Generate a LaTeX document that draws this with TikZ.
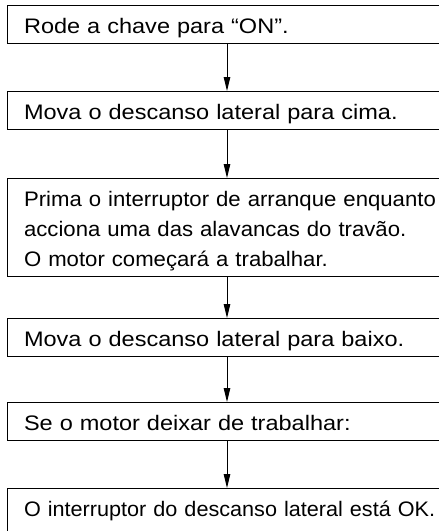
\documentclass[tikz,border=0pt]{standalone}
\usepackage{fontspec}
\setmainfont{Liberation Sans}
\newfontfamily\fwide[FakeStretch=1.12]{Liberation Sans}
\newfontfamily\fmid[FakeStretch=1.055]{Liberation Sans}
\newfontfamily\fnarrow[FakeStretch=1.03]{Liberation Sans}
\usetikzlibrary{arrows.meta}
\begin{document}
\begin{tikzpicture}[x=1pt,y=-1pt,
  stepbox/.style={draw, line width=1.1pt, anchor=north west, text width=440pt, align=left,
    inner xsep=16.5pt, inner ysep=0pt, text height=28pt, text depth=10pt,
    font=\fwide\fontsize{21}{30}\selectfont},
  flow/.style={-{Triangle[length=14pt,width=6.5pt]}, line width=0.9pt}]
\useasboundingbox (0,0) rectangle (439,531);
\clip (0,0) rectangle (439,531);
\coordinate (ax) at (227,0);
\node[stepbox] (s1) at (7,5) {Rode a chave para “ON”.};
\node[stepbox] (s2) at (7,91) {Mova o descanso lateral para cima.};
\node[stepbox, text depth=70pt, font=\fmid\fontsize{21}{30}\selectfont] (s3) at (7,178) {Prima o interruptor de arranque enquanto\\acciona uma das alavancas do travão.\\O motor começará a trabalhar.};
\node[stepbox] (s4) at (7,318) {Mova o descanso lateral para baixo.};
\node[stepbox] (s5) at (7,402) {Se o motor deixar de trabalhar:};
\node[stepbox, text depth=25pt, font=\fnarrow\fontsize{21}{30}\selectfont] (s6) at (7,488) {O interruptor do descanso lateral está OK.};
\draw[flow] (s1.south -| ax) -- (s2.north -| ax);
\draw[flow] (s2.south -| ax) -- (s3.north -| ax);
\draw[flow] (s3.south -| ax) -- (s4.north -| ax);
\draw[flow] (s4.south -| ax) -- (s5.north -| ax);
\draw[flow] (s5.south -| ax) -- (s6.north -| ax);
\end{tikzpicture}
\end{document}
